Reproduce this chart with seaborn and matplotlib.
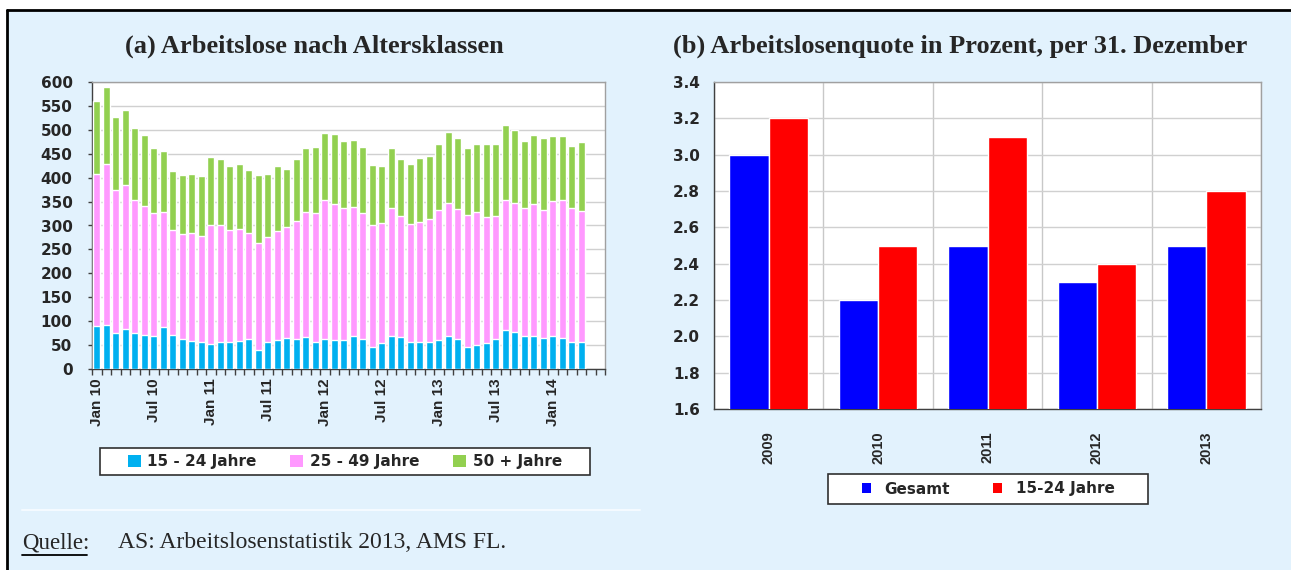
import numpy as np
import pandas as pd
import matplotlib
matplotlib.use("Agg")
import matplotlib.pyplot as plt
import seaborn as sns
from matplotlib.patches import Rectangle, Patch
from matplotlib.lines import Line2D

sns.set_theme(style="white")
plt.rcParams["font.family"] = ["Liberation Sans", "DejaVu Sans"]

# (a) Arbeitslose nach Altersklassen, Jan 2010 - Apr 2014 (monatlich)
jahre_15_24 = [89, 92, 76, 84, 76, 72, 70, 87, 72, 62, 59, 56, 52, 56, 56, 58, 62, 40,
               56, 60, 64, 62, 66, 57, 62, 60, 60, 70, 62, 45, 54, 70, 66, 56, 56, 56,
               60, 70, 62, 46, 50, 54, 62, 82, 78, 68, 68, 64, 68, 64, 57, 56]
jahre_25_49 = [319, 336, 299, 300, 278, 268, 257, 242, 218, 221, 226, 223, 249, 245, 234, 234, 223, 224,
               219, 229, 233, 248, 263, 270, 292, 285, 277, 269, 265, 256, 252, 266, 253, 248, 252, 257,
               272, 278, 272, 275, 279, 263, 257, 272, 269, 268, 277, 268, 284, 290, 279, 275]
jahre_50_plus = [153, 161, 152, 157, 149, 149, 136, 127, 124, 122, 122, 124, 142, 139, 135, 137, 132, 141,
                 132, 135, 122, 130, 132, 138, 139, 146, 140, 140, 138, 126, 119, 125, 120, 125, 133, 132,
                 139, 147, 149, 142, 142, 154, 152, 157, 153, 141, 144, 151, 135, 133, 131, 144]
x_labels_a = ["Jan 10", "Jul 10", "Jan 11", "Jul 11", "Jan 12", "Jul 12", "Jan 13", "Jul 13", "Jan 14"]
serien_a = ["15 - 24 Jahre", "25 - 49 Jahre", "50 + Jahre"]
farben_a = ["#00B0F0", "#FF99FF", "#92D050"]

# (b) Arbeitslosenquote in Prozent, per 31. Dezember
jahre_b = ["2009", "2010", "2011", "2012", "2013"]
gesamt = [3.0, 2.2, 2.5, 2.3, 2.5]
jugend = [3.2, 2.5, 3.1, 2.4, 2.8]
serien_b = ["Gesamt", "15-24 Jahre"]
farben_b = ["#0000FF", "#FF0000"]

BG = "#E2F2FD"
W, H = 1291, 570
WIDE = "DejaVu Sans"   # breitere Schrift fuer waagerechte Beschriftungen

fig = plt.figure(figsize=(W / 100, H / 100), dpi=100, facecolor="white")
fig.patches.append(Rectangle((7 / W, 0), 1, 1 - 10 / H, transform=fig.transFigure,
                             facecolor=BG, edgecolor="none", zorder=-10))
fig.add_artist(Line2D([7 / W, 1], [1 - 10 / H, 1 - 10 / H], color="black", lw=2))
fig.add_artist(Line2D([7 / W, 7 / W], [0, 1 - 10 / H], color="black", lw=2))


def fpos(x0, y0, x1, y1):
    return [x0 / W, 1 - y1 / H, (x1 - x0) / W, (y1 - y0) / H]


def rahmen(ax):
    for s in ["top", "right"]:
        ax.spines[s].set_color("#A0A0A0")
    for s in ["left", "bottom"]:
        ax.spines[s].set_color("#404040")
    for s in ax.spines.values():
        s.set_linewidth(1)
        s.set_visible(True)


def legende(handles, labels, box, spacing, textpad, handlelen):
    # weisser Kasten mit dunklem Rand, Legende ohne eigenen Rahmen mittig darin
    x0, y0, x1, y1 = box
    fig.patches.append(Rectangle((x0 / W, 1 - y1 / H), (x1 - x0) / W, (y1 - y0) / H,
                                 transform=fig.transFigure, facecolor="white",
                                 edgecolor="#303030", lw=1.2, zorder=1))
    leg = fig.legend(handles, labels, loc="center", ncol=len(labels),
                     bbox_to_anchor=((x0 + x1) / 2 / W, 1 - (y0 + y1) / 2 / H),
                     bbox_transform=fig.transFigure,
                     prop={"weight": "bold", "size": 11, "family": WIDE}, frameon=False,
                     handlelength=handlelen, handleheight=handlelen, handletextpad=textpad,
                     columnspacing=spacing, borderpad=0, borderaxespad=0)
    leg.set_zorder(2)
    return leg


# ---------- (a) ----------
monate = list(pd.period_range("2010-01", periods=len(jahre_15_24), freq="M").strftime("%b %y"))
df_a = pd.DataFrame({"monat": monate,
                     "s1": jahre_15_24,
                     "s2": jahre_25_49,
                     "s3": jahre_50_plus})
df_a["c1"] = df_a["s1"]
df_a["c2"] = df_a["s1"] + df_a["s2"]
df_a["c3"] = df_a["c2"] + df_a["s3"]

ax1 = fig.add_axes(fpos(92, 82, 605, 369))
ax1.set_facecolor("white")
for col, farbe in zip(["c3", "c2", "c1"], farben_a[::-1]):
    sns.barplot(data=df_a, x="monat", y=col, color=farbe, width=0.72,
                saturation=1, ax=ax1, zorder=3)
n_slots = len(monate) + 2
ax1.set_xlim(-0.5, n_slots - 0.5)
ax1.set_ylim(0, 600)
ax1.set_yticks(np.arange(0, 601, 50))
ax1.set_yticklabels([str(v) for v in range(0, 601, 50)], family=WIDE, fontsize=11, fontweight="bold")
ax1.yaxis.grid(True, color="#D0D0D0", lw=1)
ax1.set_axisbelow(True)
ax1.set_xticks([monate.index(l) for l in x_labels_a])
ax1.set_xticklabels(x_labels_a, rotation=90, fontsize=11, fontweight="bold")
ax1.set_xticks(np.arange(-0.5, n_slots, 1), minor=True)
ax1.tick_params(axis="x", which="major", length=0, pad=7)
ax1.tick_params(axis="x", which="minor", length=4, width=1, color="#404040", bottom=True)
ax1.tick_params(axis="y", length=3, width=1, color="#404040", left=True, pad=11)
ax1.set_xlabel("")
ax1.set_ylabel("")
rahmen(ax1)

handles_a = [Patch(facecolor=c, edgecolor="none") for c in farben_a]
legende(handles_a, serien_a, (100, 448, 590, 475), spacing=2.2, textpad=0.45, handlelen=0.85)

fig.text(314 / W, 1 - 46 / H, "(a) Arbeitslose nach Altersklassen", ha="center", va="center",
         fontsize=19, fontweight="bold", family="Liberation Serif")

# ---------- (b) ----------
df_b = pd.DataFrame({"jahr": jahre_b * 2,
                     "wert": gesamt + jugend,
                     "serie": [serien_b[0]] * len(jahre_b) + [serien_b[1]] * len(jahre_b)})
ax2 = fig.add_axes(fpos(714, 82, 1261, 409))
ax2.set_facecolor("white")
sns.barplot(data=df_b, x="jahr", y="wert", hue="serie", palette=farben_b, width=0.72,
            saturation=1, ax=ax2, legend=False, zorder=3)
ax2.set_ylim(1.6, 3.4)
ax2.set_xlim(-0.5, len(jahre_b) - 0.5)
yt = np.arange(1.6, 3.41, 0.2)
ax2.set_yticks(yt)
ax2.set_yticklabels([f"{v:.1f}" for v in yt], family=WIDE, fontsize=11, fontweight="bold")
ax2.set_xticks(np.arange(-0.5, len(jahre_b), 1), minor=True)
ax2.grid(True, which="minor", axis="x", color="#C8C8C8", lw=1)
ax2.yaxis.grid(True, color="#D0D0D0", lw=1)
ax2.set_axisbelow(True)
ax2.set_xticks(range(len(jahre_b)))
ax2.set_xticklabels(jahre_b, rotation=90, fontsize=10.5, fontweight="bold")
ax2.tick_params(axis="both", which="both", length=0)
ax2.tick_params(axis="x", pad=16)
ax2.tick_params(axis="y", pad=10)
ax2.set_xlabel("")
ax2.set_ylabel("")
rahmen(ax2)

handles_b = [Patch(facecolor=c, edgecolor="none") for c in farben_b]
legende(handles_b, serien_b, (828, 474, 1148, 504), spacing=2.8, textpad=0.9, handlelen=0.6)

fig.text(960 / W, 1 - 46 / H, "(b) Arbeitslosenquote in Prozent, per 31. Dezember", ha="center",
         va="center", fontsize=19, fontweight="bold", family="Liberation Serif")

# ---------- Quelle ----------
fig.add_artist(Line2D([22 / W, 640 / W], [1 - 510 / H, 1 - 510 / H], color="#F4FAFF", lw=1.5))
fig.text(22 / W, 1 - 543 / H, "Quelle:", ha="left", va="center", fontsize=16.5,
         family="Liberation Serif")
fig.add_artist(Line2D([22 / W, 87 / W], [1 - 555 / H, 1 - 555 / H], color="black", lw=1.3))
fig.text(118 / W, 1 - 543 / H, "AS: Arbeitslosenstatistik 2013, AMS FL.", ha="left", va="center",
         fontsize=17, family="Liberation Serif")

fig.savefig("out.png", dpi=100, facecolor=fig.get_facecolor())
